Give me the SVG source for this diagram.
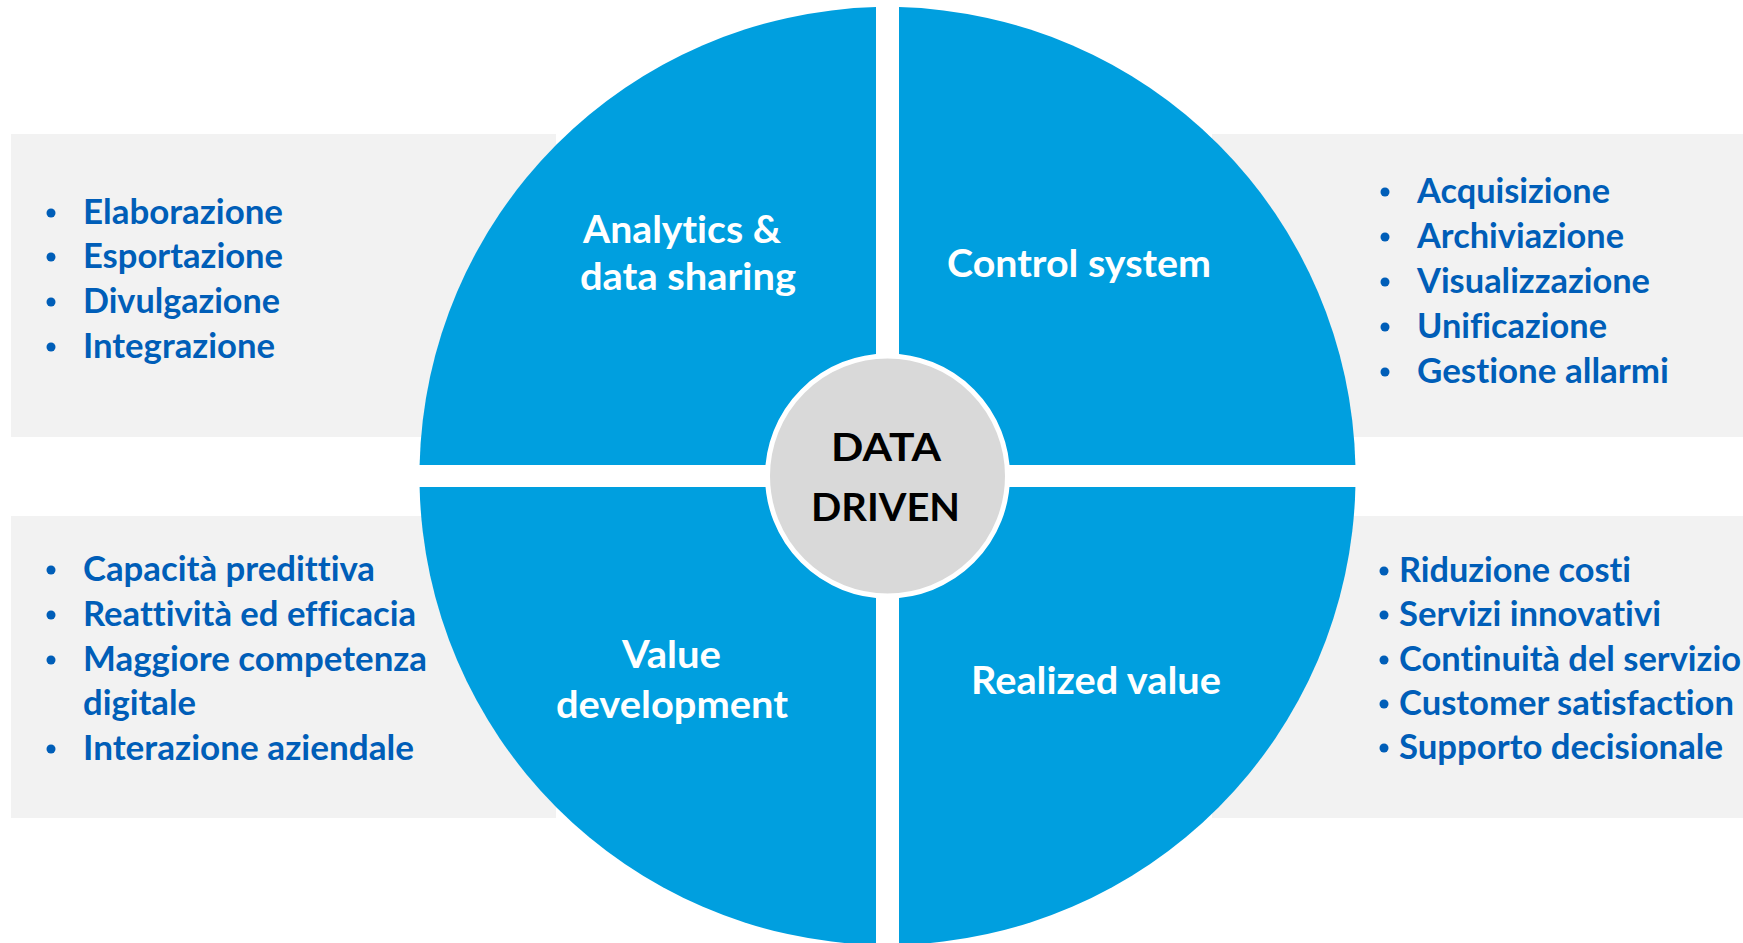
<svg xmlns="http://www.w3.org/2000/svg" width="1743" height="943" viewBox="0 0 1743 943">
<style>
text{font-variant-ligatures:none;font-feature-settings:"liga" 0}
.panel{fill:#F2F2F2}
.quad{fill:#009FDF}
.item{font-family:Lato,"Open Sans","Liberation Sans",sans-serif;font-weight:700;font-size:34px;fill:#005EB8}
.bul{fill:#005EB8}
.qlabel{font-family:Lato,"Open Sans","Liberation Sans",sans-serif;font-weight:700;font-size:38px;fill:#FFFFFF}
.core{fill:#D9D9D9;stroke:#FFFFFF;stroke-width:5}
.ctext{font-family:Lato,"Open Sans","Liberation Sans",sans-serif;font-weight:700;font-size:39px;fill:#000000}
</style>
<rect width="1743" height="943" fill="#FFFFFF"/>
<g id="panels">
<rect class="panel" x="11" y="134" width="545" height="303"/>
<rect class="panel" x="11" y="516" width="545" height="302"/>
<rect class="panel" x="1212" y="134" width="531" height="303"/>
<rect class="panel" x="1212" y="516" width="531" height="302"/>
</g>
<g id="quadrant-analytics">
<path class="quad" d="M876 465 L419.6 465 A469 469 0 0 1 876 7.1 Z"/>
<text class="qlabel" x="583" y="243" textLength="198" lengthAdjust="spacingAndGlyphs">Analytics &amp;</text>
<text class="qlabel" x="580" y="290" textLength="216" lengthAdjust="spacingAndGlyphs">data sharing</text>
</g>
<g id="quadrant-control">
<path class="quad" d="M899 465 L1355.4 465 A469 469 0 0 0 899 7.1 Z"/>
<text class="qlabel" x="947" y="277" textLength="264" lengthAdjust="spacingAndGlyphs">Control system</text>
</g>
<g id="quadrant-value-development">
<path class="quad" d="M876 487 L419.6 487 A469 469 0 0 0 876 944.9 Z"/>
<text class="qlabel" x="622" y="668" textLength="99" lengthAdjust="spacingAndGlyphs">Value</text>
<text class="qlabel" x="556" y="718" textLength="232" lengthAdjust="spacingAndGlyphs">development</text>
</g>
<g id="quadrant-realized-value">
<path class="quad" d="M899 487 L1355.4 487 A469 469 0 0 1 899 944.9 Z"/>
<text class="qlabel" x="971" y="694" textLength="250" lengthAdjust="spacingAndGlyphs">Realized value</text>
</g>
<g id="center-data-driven">
<circle class="core" cx="887.5" cy="476" r="120"/>
<text class="ctext" x="831" y="461" textLength="110" lengthAdjust="spacingAndGlyphs">DATA</text>
<text class="ctext" x="811" y="521" textLength="149" lengthAdjust="spacingAndGlyphs">DRIVEN</text>
</g>
<g id="list-analytics">
<circle class="bul" cx="51" cy="213" r="4.5"/>
<circle class="bul" cx="51" cy="257" r="4.5"/>
<circle class="bul" cx="51" cy="302" r="4.5"/>
<circle class="bul" cx="51" cy="347" r="4.5"/>
<text class="item" x="83" y="224" textLength="200" lengthAdjust="spacingAndGlyphs">Elaborazione</text>
<text class="item" x="83" y="268" textLength="200" lengthAdjust="spacingAndGlyphs">Esportazione</text>
<text class="item" x="83" y="313" textLength="197" lengthAdjust="spacingAndGlyphs">Divulgazione</text>
<text class="item" x="83" y="358" textLength="192" lengthAdjust="spacingAndGlyphs">Integrazione</text>
</g>
<g id="list-control">
<circle class="bul" cx="1385" cy="192" r="4.5"/>
<circle class="bul" cx="1385" cy="237" r="4.5"/>
<circle class="bul" cx="1385" cy="282" r="4.5"/>
<circle class="bul" cx="1385" cy="327" r="4.5"/>
<circle class="bul" cx="1385" cy="372" r="4.5"/>
<text class="item" x="1417" y="203" textLength="193" lengthAdjust="spacingAndGlyphs">Acquisizione</text>
<text class="item" x="1417" y="248" textLength="207" lengthAdjust="spacingAndGlyphs">Archiviazione</text>
<text class="item" x="1417" y="293" textLength="233" lengthAdjust="spacingAndGlyphs">Visualizzazione</text>
<text class="item" x="1417" y="338" textLength="190" lengthAdjust="spacingAndGlyphs">Unificazione</text>
<text class="item" x="1417" y="383" textLength="252" lengthAdjust="spacingAndGlyphs">Gestione allarmi</text>
</g>
<g id="list-value-development">
<circle class="bul" cx="51" cy="570" r="4.5"/>
<circle class="bul" cx="51" cy="615" r="4.5"/>
<circle class="bul" cx="51" cy="660" r="4.5"/>
<circle class="bul" cx="51" cy="749" r="4.5"/>
<text class="item" x="83" y="581" textLength="292" lengthAdjust="spacingAndGlyphs">Capacità predittiva</text>
<text class="item" x="83" y="626" textLength="333" lengthAdjust="spacingAndGlyphs">Reattività ed efficacia</text>
<text class="item" x="83" y="671" textLength="344" lengthAdjust="spacingAndGlyphs">Maggiore competenza</text>
<text class="item" x="83" y="715" textLength="113" lengthAdjust="spacingAndGlyphs">digitale</text>
<text class="item" x="83" y="760" textLength="331" lengthAdjust="spacingAndGlyphs">Interazione aziendale</text>
</g>
<g id="list-realized-value">
<circle class="bul" cx="1384" cy="571" r="4.5"/>
<circle class="bul" cx="1384" cy="615" r="4.5"/>
<circle class="bul" cx="1384" cy="660" r="4.5"/>
<circle class="bul" cx="1384" cy="704" r="4.5"/>
<circle class="bul" cx="1384" cy="748" r="4.5"/>
<text class="item" x="1399" y="582" textLength="232" lengthAdjust="spacingAndGlyphs">Riduzione costi</text>
<text class="item" x="1399" y="626" textLength="262" lengthAdjust="spacingAndGlyphs">Servizi innovativi</text>
<text class="item" x="1399" y="671" textLength="342" lengthAdjust="spacingAndGlyphs">Continuità del servizio</text>
<text class="item" x="1399" y="715" textLength="335" lengthAdjust="spacingAndGlyphs">Customer satisfaction</text>
<text class="item" x="1399" y="759" textLength="324" lengthAdjust="spacingAndGlyphs">Supporto decisionale</text>
</g>
<g id="connectors"/>
</svg>
